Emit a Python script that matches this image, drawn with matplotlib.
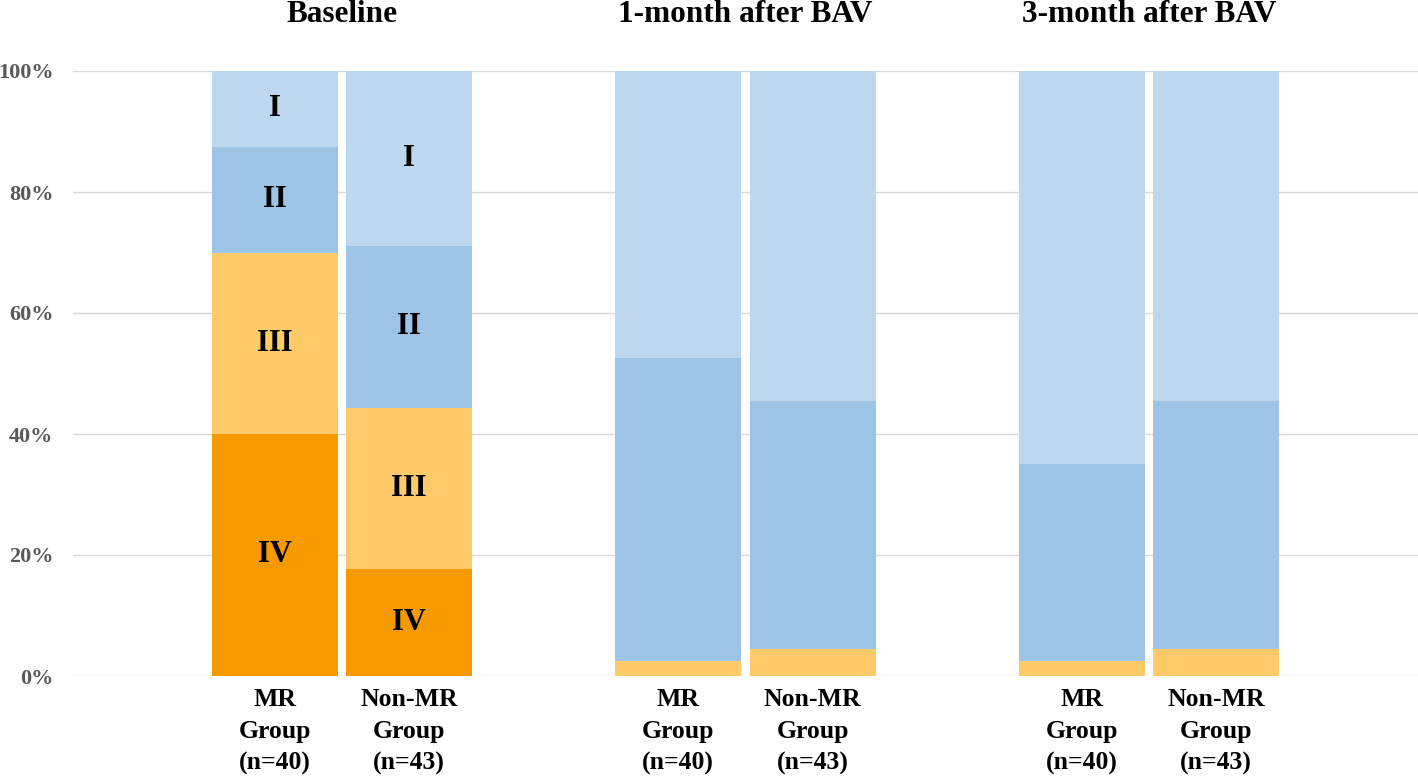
import matplotlib.pyplot as plt
import numpy as np

plt.rcParams['font.family'] = ['Liberation Serif', 'DejaVu Serif']

stages = ['Baseline', '1-month after BAV', '3-month after BAV']
groups = ['MR\nGroup\n(n=40)', 'Non-MR\nGroup\n(n=43)']
classes = ['IV', 'III', 'II', 'I']

# percent of patients per NYHA class, bottom to top (IV, III, II, I)
# order of bars: Baseline MR, Baseline Non-MR, 1m MR, 1m Non-MR, 3m MR, 3m Non-MR
class_iv = [40.0, 17.7, 0.0, 0.0, 0.0, 0.0]
class_iii = [30.0, 26.6, 2.5, 4.5, 2.5, 4.5]
class_ii = [17.5, 26.8, 50.0, 40.9, 32.5, 40.9]
class_i = [12.5, 28.9, 47.5, 54.6, 65.0, 54.6]

# only the baseline bars carry class labels
labelled_bars = [0, 1]

colors = {'IV': '#F79A00', 'III': '#FFCA6A', 'II': '#9DC3E6', 'I': '#BDD7EE'}

fig = plt.figure(figsize=(14.18, 7.77), dpi=100)
ax = fig.add_axes([73 / 1418, 1 - 676 / 777, 1 - 73 / 1418, (676 - 71) / 777])

# two bars per stage, an empty slot between stages
xs = np.array([0, 1, 3, 4, 6, 7])
width = 0.937

series = {'IV': class_iv, 'III': class_iii, 'II': class_ii, 'I': class_i}
bottom = np.zeros(len(xs))
for cls in classes:
    vals = np.array(series[cls]) / 100
    ax.bar(xs, vals, width, bottom=bottom, color=colors[cls], edgecolor='none', zorder=2)
    for i in labelled_bars:
        if vals[i] > 0:
            ax.text(xs[i], bottom[i] + vals[i] / 2, cls, ha='center', va='center',
                    fontsize=22, fontweight='bold', color='black', zorder=3)
    bottom += vals

ax.set_xlim(-1.5, 8.5)
ax.set_ylim(0, 1)
ticks = np.arange(0, 1.01, 0.2)
ax.set_yticks(ticks)
ax.set_yticklabels([f'{int(round(v * 100))}%' for v in ticks])
ax.tick_params(axis='y', length=0, pad=14, labelsize=16, labelcolor='#595959')
for lbl in ax.get_yticklabels():
    lbl.set_fontweight('bold')
ax.yaxis.grid(True, color='#D9D9D9', linewidth=1, zorder=0)
ax.set_axisbelow(True)

ax.set_xticks(xs)
ax.set_xticklabels(groups * 3, fontsize=18.5, fontweight='bold', linespacing=1.48)
ax.tick_params(axis='x', length=0, pad=9)

for sp in ax.spines.values():
    sp.set_visible(False)

for k, st in enumerate(stages):
    ax.text((xs[2 * k] + xs[2 * k + 1]) / 2, 1.0 + 56 / 605, st,
            ha='center', va='center', fontsize=22.5, fontweight='bold', clip_on=False)

fig.savefig('out.png', dpi=100)
